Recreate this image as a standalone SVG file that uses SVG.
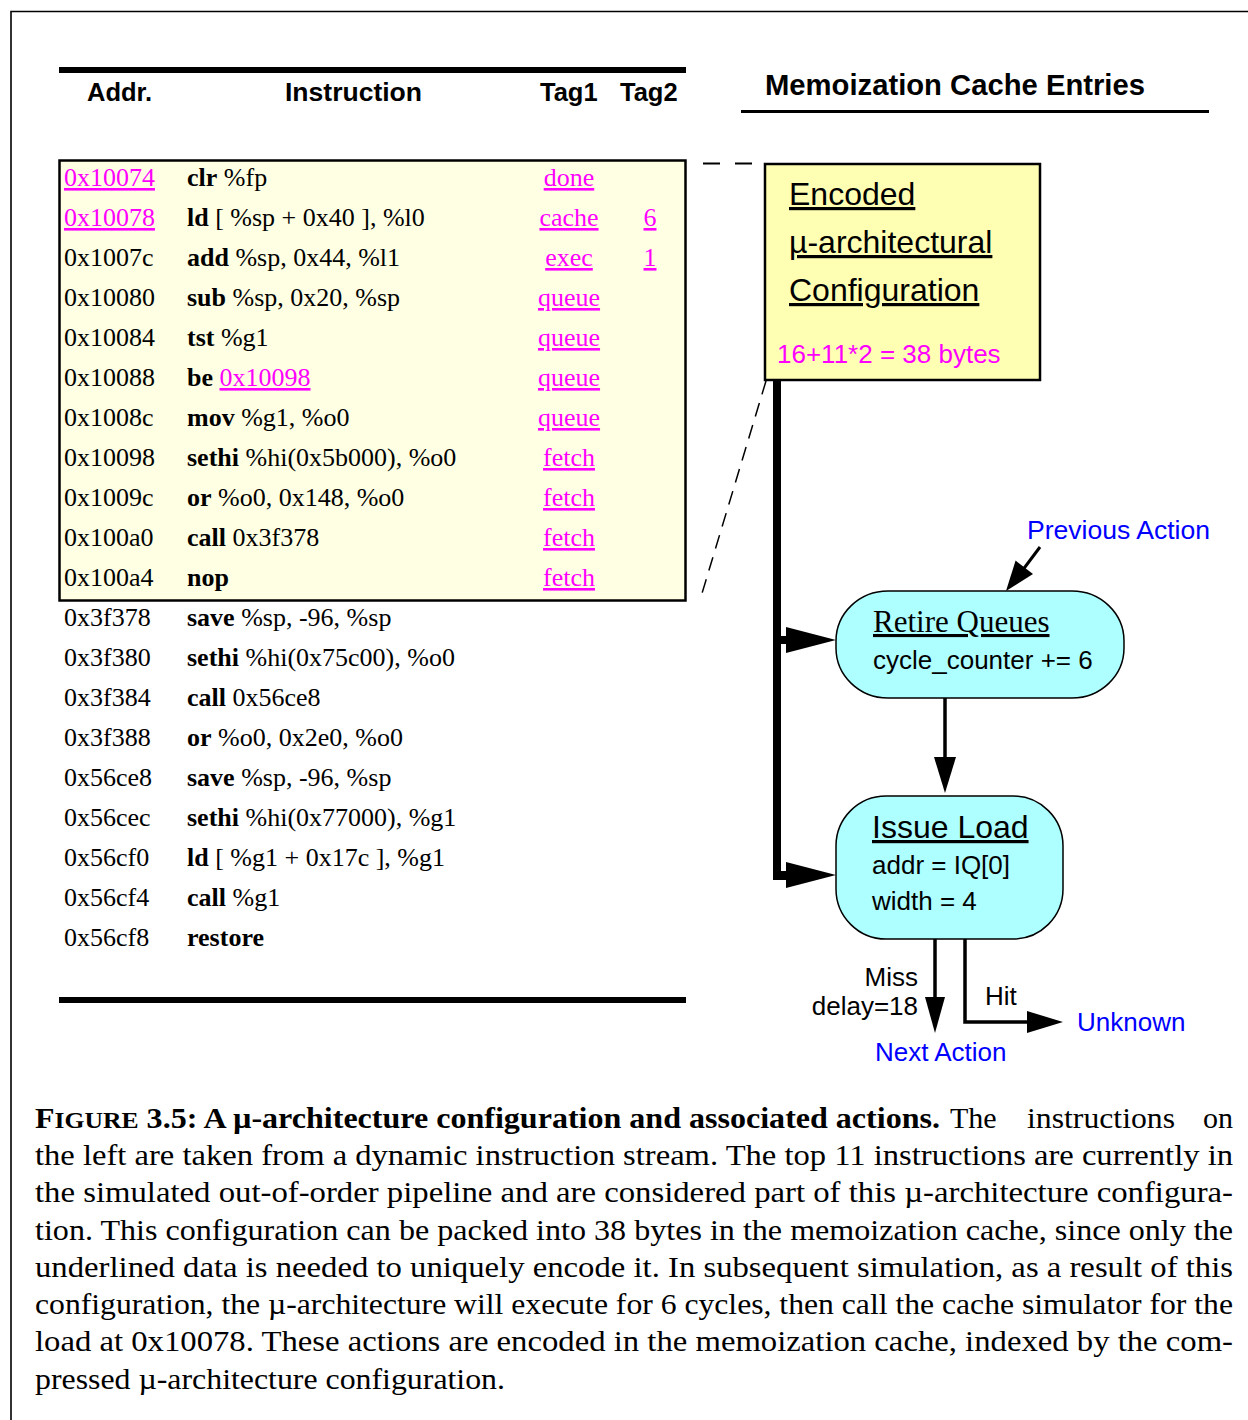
<svg xmlns="http://www.w3.org/2000/svg" width="1248" height="1420" viewBox="0 0 1248 1420">
  <style>
    .sans { font-family: "Liberation Sans", Arial, sans-serif; }
    .serif { font-family: "Liberation Serif", "Times New Roman", serif; }
    .hdr { font-family: "Liberation Sans", Arial, sans-serif; font-weight: bold; font-size: 25.5px; fill: #000; }
    .row { font-family: "Liberation Serif", "Times New Roman", serif; font-size: 26px; fill: #000; }
    .op { font-weight: bold; }
    .lnk { fill: #ff00ff; text-decoration: underline; }
    .tag { text-anchor: middle; }
    .ul { text-decoration: underline; }
    .blue { fill: #0000ff; }
    .node { fill: #aeffff; stroke: #000; stroke-width: 1.5; }
    .cap { font-family: "Liberation Serif", "Times New Roman", serif; font-size: 30px; fill: #000; }
    .dash { fill: none; stroke: #000; }
  </style>

  <!-- page frame -->
  <path d="M11 1420 V11.5 H1248" fill="none" stroke="#000" stroke-width="1.6"/>

  <!-- instruction table -->
  <g id="table">
    <rect x="59" y="67" width="627" height="6" fill="#000"/>
    <text class="hdr" x="87" y="101">Addr.</text>
    <text class="hdr" x="285" y="101" textLength="137" lengthAdjust="spacingAndGlyphs">Instruction</text>
    <text class="hdr" x="540" y="101">Tag1</text>
    <text class="hdr" x="620" y="101">Tag2</text>

    <rect x="59.5" y="160.5" width="626" height="440" fill="#ffffe3" stroke="#000" stroke-width="2.5"/>

    <g class="row">
      <text x="64" y="186"><tspan class="lnk">0x10074</tspan></text>
      <text x="187" y="186"><tspan class="op">clr</tspan> %fp</text>
      <text x="569" y="186" class="tag lnk">done</text>

      <text x="64" y="226"><tspan class="lnk">0x10078</tspan></text>
      <text x="187" y="226"><tspan class="op">ld</tspan> [ %sp + 0x40 ], %l0</text>
      <text x="569" y="226" class="tag lnk">cache</text>
      <text x="650" y="226" class="tag lnk">6</text>

      <text x="64" y="266">0x1007c</text>
      <text x="187" y="266"><tspan class="op">add</tspan> %sp, 0x44, %l1</text>
      <text x="569" y="266" class="tag lnk">exec</text>
      <text x="650" y="266" class="tag lnk">1</text>

      <text x="64" y="306">0x10080</text>
      <text x="187" y="306"><tspan class="op">sub</tspan> %sp, 0x20, %sp</text>
      <text x="569" y="306" class="tag lnk">queue</text>

      <text x="64" y="346">0x10084</text>
      <text x="187" y="346"><tspan class="op">tst</tspan> %g1</text>
      <text x="569" y="346" class="tag lnk">queue</text>

      <text x="64" y="386">0x10088</text>
      <text x="187" y="386"><tspan class="op">be</tspan> <tspan class="lnk">0x10098</tspan></text>
      <text x="569" y="386" class="tag lnk">queue</text>

      <text x="64" y="426">0x1008c</text>
      <text x="187" y="426"><tspan class="op">mov</tspan> %g1, %o0</text>
      <text x="569" y="426" class="tag lnk">queue</text>

      <text x="64" y="466">0x10098</text>
      <text x="187" y="466"><tspan class="op">sethi</tspan> %hi(0x5b000), %o0</text>
      <text x="569" y="466" class="tag lnk">fetch</text>

      <text x="64" y="506">0x1009c</text>
      <text x="187" y="506"><tspan class="op">or</tspan> %o0, 0x148, %o0</text>
      <text x="569" y="506" class="tag lnk">fetch</text>

      <text x="64" y="546">0x100a0</text>
      <text x="187" y="546"><tspan class="op">call</tspan> 0x3f378</text>
      <text x="569" y="546" class="tag lnk">fetch</text>

      <text x="64" y="586">0x100a4</text>
      <text x="187" y="586"><tspan class="op">nop</tspan></text>
      <text x="569" y="586" class="tag lnk">fetch</text>

      <text x="64" y="626">0x3f378</text>
      <text x="187" y="626"><tspan class="op">save</tspan> %sp, -96, %sp</text>

      <text x="64" y="666">0x3f380</text>
      <text x="187" y="666"><tspan class="op">sethi</tspan> %hi(0x75c00), %o0</text>

      <text x="64" y="706">0x3f384</text>
      <text x="187" y="706"><tspan class="op">call</tspan> 0x56ce8</text>

      <text x="64" y="746">0x3f388</text>
      <text x="187" y="746"><tspan class="op">or</tspan> %o0, 0x2e0, %o0</text>

      <text x="64" y="786">0x56ce8</text>
      <text x="187" y="786"><tspan class="op">save</tspan> %sp, -96, %sp</text>

      <text x="64" y="826">0x56cec</text>
      <text x="187" y="826"><tspan class="op">sethi</tspan> %hi(0x77000), %g1</text>

      <text x="64" y="866">0x56cf0</text>
      <text x="187" y="866"><tspan class="op">ld</tspan> [ %g1 + 0x17c ], %g1</text>

      <text x="64" y="906">0x56cf4</text>
      <text x="187" y="906"><tspan class="op">call</tspan> %g1</text>

      <text x="64" y="946">0x56cf8</text>
      <text x="187" y="946"><tspan class="op">restore</tspan></text>
    </g>

    <rect x="59" y="997" width="627" height="6" fill="#000"/>
  </g>

  <!-- cache entries heading -->
  <g id="cache-heading">
    <text class="sans" x="765" y="95" font-size="29" font-weight="bold" textLength="380" lengthAdjust="spacingAndGlyphs">Memoization Cache Entries</text>
    <rect x="741" y="110" width="468" height="3" fill="#000"/>
  </g>

  <!-- connectors -->
  <g id="connectors">
    <!-- dashed projection from the table to the encoded entry -->
    <path class="dash" d="M703 163.5 H765" stroke-width="2" stroke-dasharray="17 15"/>
    <path class="dash" d="M766 381 L700 600" stroke-width="1.5" stroke-dasharray="14 9"/>

    <!-- thick trunk from the encoded entry -->
    <rect x="773" y="380" width="8" height="500" fill="#000"/>
    <rect x="773" y="636" width="17" height="8" fill="#000"/>
    <polygon points="786,627 836,640 786,653" fill="#000"/>
    <rect x="773" y="871" width="17" height="9" fill="#000"/>
    <polygon points="786,862 836,875 786,888" fill="#000"/>

    <!-- previous action into retire queues -->
    <line x1="1040" y1="547" x2="1022" y2="571" stroke="#000" stroke-width="3"/>
    <polygon points="1006,591 1033,574 1015.6,560.6" fill="#000"/>

    <!-- retire queues to issue load -->
    <line x1="945" y1="698" x2="945" y2="760" stroke="#000" stroke-width="3.5"/>
    <polygon points="934,757 956,757 945,793" fill="#000"/>

    <!-- miss -->
    <line x1="935" y1="939" x2="935" y2="1000" stroke="#000" stroke-width="3.5"/>
    <polygon points="925,997 945,997 935,1033" fill="#000"/>

    <!-- hit -->
    <polyline points="965,939 965,1022 1030,1022" fill="none" stroke="#000" stroke-width="3.5"/>
    <polygon points="1027,1011 1063,1022 1027,1033" fill="#000"/>
  </g>

  <!-- encoded configuration entry -->
  <g id="encoded-config">
    <rect x="765" y="164" width="275" height="216" fill="#ffffb3" stroke="#000" stroke-width="2.5"/>
    <text class="sans ul" x="789" y="205" font-size="32">Encoded</text>
    <text class="sans ul" x="789" y="253" font-size="32">µ-architectural</text>
    <text class="sans ul" x="789" y="301" font-size="32">Configuration</text>
    <text class="sans" x="777" y="363" font-size="26" fill="#ff00ff">16+11*2 = 38 bytes</text>
  </g>

  <!-- previous action label -->
  <g id="previous-action">
    <text class="sans blue" x="1027" y="539" font-size="26" textLength="183" lengthAdjust="spacingAndGlyphs">Previous Action</text>
  </g>

  <!-- retire queues node -->
  <g id="retire-queues">
    <rect class="node" x="836" y="591" width="288" height="107" rx="52" ry="50"/>
    <text class="serif ul" x="873" y="632" font-size="31">Retire Queues</text>
    <text class="sans" x="873" y="669" font-size="26">cycle_counter += 6</text>
  </g>

  <!-- issue load node -->
  <g id="issue-load">
    <rect class="node" x="836" y="796" width="227" height="143" rx="50" ry="50"/>
    <text class="sans ul" x="872" y="838" font-size="32">Issue Load</text>
    <text class="sans" x="872" y="874" font-size="26">addr = IQ[0]</text>
    <text class="sans" x="872" y="910" font-size="26">width = 4</text>
  </g>

  <!-- outcome labels -->
  <g id="miss-label">
    <text class="sans" x="918" y="986" font-size="26" text-anchor="end">Miss</text>
    <text class="sans" x="918" y="1015" font-size="26" text-anchor="end">delay=18</text>
  </g>
  <g id="hit-label">
    <text class="sans" x="985" y="1005" font-size="26">Hit</text>
  </g>
  <g id="unknown">
    <text class="sans blue" x="1077" y="1031" font-size="26">Unknown</text>
  </g>
  <g id="next-action">
    <text class="sans blue" x="875" y="1061" font-size="26">Next Action</text>
  </g>

  <!-- figure caption -->
  <g id="caption" class="cap">
    <text x="35" y="1128" font-weight="bold" textLength="905" lengthAdjust="spacingAndGlyphs">F<tspan font-size="24">IGURE</tspan> 3.5: A µ-architecture configuration and associated actions.</text>
    <text x="950" y="1128">The</text>
    <text x="1027" y="1128" textLength="148" lengthAdjust="spacingAndGlyphs">instructions</text>
    <text x="1203" y="1128">on</text>
    <text x="35" y="1165" textLength="1198" lengthAdjust="spacingAndGlyphs">the left are taken from a dynamic instruction stream. The top 11 instructions are currently in</text>
    <text x="35" y="1202" textLength="1198" lengthAdjust="spacingAndGlyphs">the simulated out-of-order pipeline and are considered part of this µ-architecture configura-</text>
    <text x="35" y="1240" textLength="1198" lengthAdjust="spacingAndGlyphs">tion. This configuration can be packed into 38 bytes in the memoization cache, since only the</text>
    <text x="35" y="1277" textLength="1198" lengthAdjust="spacingAndGlyphs">underlined data is needed to uniquely encode it. In subsequent simulation, as a result of this</text>
    <text x="35" y="1314" textLength="1198" lengthAdjust="spacingAndGlyphs">configuration, the µ-architecture will execute for 6 cycles, then call the cache simulator for the</text>
    <text x="35" y="1351" textLength="1198" lengthAdjust="spacingAndGlyphs">load at 0x10078. These actions are encoded in the memoization cache, indexed by the com-</text>
    <text x="35" y="1389" textLength="470" lengthAdjust="spacingAndGlyphs">pressed µ-architecture configuration.</text>
  </g>
</svg>
